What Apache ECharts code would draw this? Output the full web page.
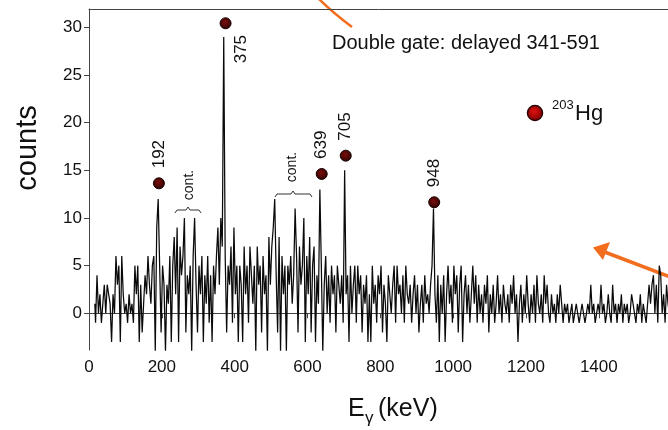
<!DOCTYPE html>
<html>
<head>
<meta charset="utf-8">
<script src="https://cdn.jsdelivr.net/npm/echarts@6/dist/echarts.min.js"></script>
<style>html,body{margin:0;padding:0;background:#fff}#c{width:668px;height:430px}</style>
</head>
<body>
<div id="c"></div>
<script>
// Spectrum: bins of 4 keV starting at 16 keV
var binStart = 16;
var binWidth = 4;
var counts = [
  // 16-112
  1,-1,4,0,2,-1,1,3,0,3,2,1,-3,2,0,6,3,5,-3,6,2,0,1,-1,2,
  // 116-212
  0,1,-1,5,2,5,-3,3,-2,1,4,2,6,3,1,5,6,-4,9,12,5,-2,5,3,-4,
  // 216-312
  3,1,6,-3,5,8,2,9,-3,7,4,6,10,-2,4,2,5,-4,6,10,3,-2,5,2,6,
  // 316-412
  -3,4,1,6,-1,4,-3,5,2,6,9,3,10,7,29,6,-2,5,3,7,-1,9,2,5,-3,
  // 416-512
  5,3,-3,7,2,5,-1,7,4,1,5,-4,7,3,5,-2,6,2,4,-4,8,3,7,9,12,
  // 516-612
  4,-2,8,-4,6,2,5,-4,5,3,6,1,4,11,6,-2,7,3,5,10,-3,6,2,8,-2,
  // 616-712
  5,7,-3,4,1,13,5,-4,3,6,0,4,-1,5,2,4,-2,5,3,1,4,-1,15,2,4,
  // 716-812
  -3,5,0,3,5,-1,5,2,4,-2,3,1,4,-3,2,-3,5,1,3,-1,4,2,5,-2,3,
  // 816-912
  1,-3,4,2,0,3,5,-1,5,2,3,0,4,-1,5,2,1,3,-1,2,4,0,3,-2,1,
  // 916-1012
  3,-1,4,1,2,0,3,5,11,2,-1,4,-3,3,0,4,-3,2,5,1,3,-1,5,2,4,
  // 1016-1112
  -2,3,5,-3,2,4,0,3,-1,2,5,1,4,-1,3,0,2,-1,3,1,4,-2,2,0,3,
  // 1116-1212
  -1,1,4,0,2,-1,3,1,0,2,-1,3,1,4,0,2,-3,1,3,-1,2,0,4,1,-1,
  // 1216-1312
  2,0,3,-1,4,1,0,2,-1,4,1,3,0,-1,2,0,1,-1,2,0,3,1,-1,1,0,
  // 1316-1412
  1,-1,0,1,-1,0,1,0,-1,0,1,0,-1,0,1,0,3,0,1,-1,0,1,0,3,0,
  // 1416-1512
  1,-1,0,2,0,-1,3,0,1,-1,1,0,2,-1,1,0,1,-1,0,2,1,0,-1,1,0,
  // 1516-1612
  2,-1,1,0,-1,1,3,1,3,4,0,3,-1,5,4,0,2,-1,3,1,0,2,-1,1,0
];
var peakEnergies = [192, 375, 639, 705, 948];
var peakMarkers  = [13.64, 30.43, 14.62, 16.54, 11.65];
var peakLabels   = ['192', '375', '639', '705', '948'];
var xTicks = [0, 200, 400, 600, 800, 1000, 1200, 1400];
var yTicks = [0, 5, 10, 15, 20, 25, 30];

var spec = counts.map(function (c, i) { return [binStart + i * binWidth, c]; });
var peaks = peakEnergies.map(function (e, i) {
  var special = (peakLabels[i] === '375');
  return {
    value: [e, peakMarkers[i]],
    label: special ? { offset: [-40, 16] } : {}
  };
});

var chart = echarts.init(document.getElementById('c'), null, { renderer: 'canvas' });
var FONT = 'Liberation Sans, Arial, sans-serif';
var orange = '#f26d1d';
var axisCol = '#444';

chart.setOption({
  animation: false,
  backgroundColor: '#fff',
  grid: { left: 89, top: 9, right: 0, height: 341, show: false },
  xAxis: [{
    type: 'value', min: 0, max: 1590, position: 'bottom',
    axisLine: { lineStyle: { color: axisCol, width: 1 } },
    axisTick: { show: true, length: 5, customValues: xTicks, lineStyle: { color: axisCol } },
    axisLabel: { customValues: xTicks, margin: 9, color: '#111', fontSize: 17, fontFamily: FONT,
      formatter: function (v) { return String(v); } },
    splitLine: { show: false }
  }, {
    type: 'value', min: 0, max: 1590, position: 'top',
    axisLine: { show: true, lineStyle: { color: axisCol, width: 1 } },
    axisTick: { show: false }, axisLabel: { show: false }, splitLine: { show: false }
  }],
  yAxis: {
    type: 'value', min: -3.85, max: 31.93,
    axisLine: { show: true, lineStyle: { color: axisCol, width: 1 } },
    axisTick: { show: true, length: 5, customValues: yTicks, lineStyle: { color: axisCol } },
    axisLabel: { customValues: yTicks, margin: 7, color: '#111', fontSize: 17, fontFamily: FONT },
    splitLine: { show: false }
  },
  series: [
    {
      type: 'line', data: spec, step: 'middle', showSymbol: false, symbol: 'none',
      lineStyle: { color: '#0a0a0a', width: 1.25 }, z: 2
    },
    {
      type: 'scatter', data: peaks, symbolSize: 11, z: 3,
      itemStyle: {
        opacity: 1,
        color: { type: 'radial', x: 0.45, y: 0.4, r: 0.6, colorStops: [{ offset: 0, color: '#7a0e0a' }, { offset: 1, color: '#2e0302' }] },
        borderColor: '#120000', borderWidth: 1
      },
      label: {
        show: true, position: 'inside', rotate: 90, align: 'left', verticalAlign: 'middle',
        offset: [15, 0], color: '#111', fontSize: 17, fontFamily: FONT,
        formatter: function (p) { return peakLabels[p.dataIndex]; }
      }
    }
  ],
  graphic: [
    { type: 'text', left: 332, top: 33, style: { text: 'Double gate: delayed 341-591', font: '20px ' + FONT, fill: '#111' } },
    { type: 'circle', shape: { cx: 535, cy: 113, r: 7.5 }, style: {
        fill: { type: 'radial', x: 0.45, y: 0.4, r: 0.6, colorStops: [{ offset: 0, color: '#e01010' }, { offset: 1, color: '#7a0000' }] },
        stroke: '#2a0000', lineWidth: 1.5 } },
    { type: 'text', x: 552, y: 99, style: { text: '203', font: '13px ' + FONT, fill: '#111', textVerticalAlign: 'top' } },
    { type: 'text', x: 575, y: 103, style: { text: 'Hg', font: '22px ' + FONT, fill: '#111', textVerticalAlign: 'top' } },
    { type: 'text', x: 28, y: 148, rotation: Math.PI / 2, style: { text: 'counts', font: '29px ' + FONT, fill: '#111', align: 'center', verticalAlign: 'middle' } },
    { type: 'text', x: 348, y: 397, style: { text: 'E', font: '25px ' + FONT, fill: '#111', textVerticalAlign: 'top' } },
    { type: 'text', x: 365, y: 410, style: { text: 'γ', font: '17px ' + FONT, fill: '#111', textVerticalAlign: 'top' } },
    { type: 'text', x: 378, y: 397, style: { text: '(keV)', font: '25px ' + FONT, fill: '#111', textVerticalAlign: 'top' } },
    { type: 'polyline', shape: { points: [[175, 213], [177, 210], [186, 210], [188, 207], [190, 210], [199, 210], [201, 213]] }, style: { stroke: '#333', lineWidth: 1, fill: null } },
    { type: 'polyline', shape: { points: [[275, 197], [277, 194], [291, 194], [293, 191], [295, 194], [310, 194], [312, 197]] }, style: { stroke: '#333', lineWidth: 1, fill: null } },
    { type: 'text', x: 189, y: 185, rotation: Math.PI / 2, style: { text: 'cont.', font: '14px ' + FONT, fill: '#111', align: 'center', verticalAlign: 'middle' } },
    { type: 'text', x: 292, y: 167, rotation: Math.PI / 2, style: { text: 'cont.', font: '14px ' + FONT, fill: '#111', align: 'center', verticalAlign: 'middle' } },
    { type: 'bezierCurve', shape: { x1: 318, y1: -2, x2: 352, y2: 27, cpx1: 330, cpy1: 10, cpx2: 340, cpy2: 18 }, style: { stroke: orange, lineWidth: 2.5, fill: null } },
    { type: 'line', shape: { x1: 670, y1: 277, x2: 602, y2: 251 }, style: { stroke: orange, lineWidth: 3.5 } },
    { type: 'polygon', shape: { points: [[593, 247.5], [610, 242], [603, 260]] }, style: { fill: orange } }
  ]
});
</script>
</body>
</html>
